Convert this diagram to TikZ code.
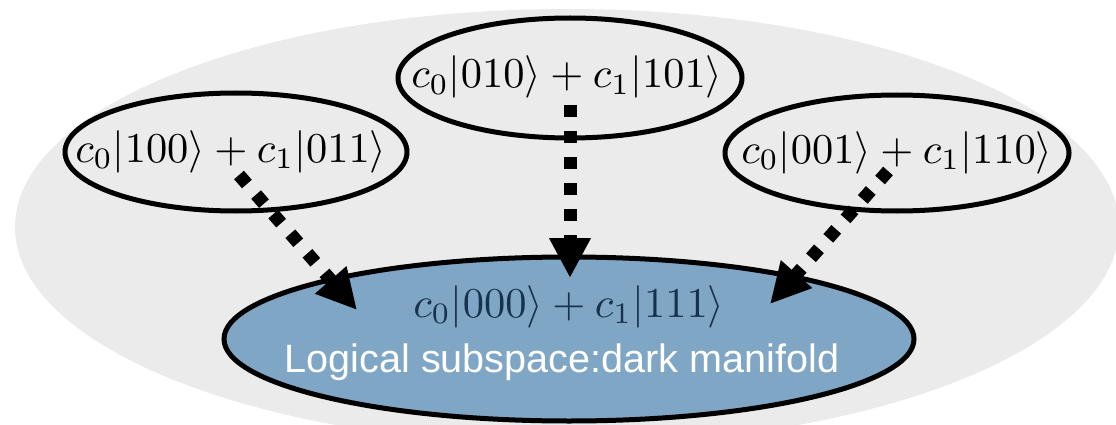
\documentclass[tikz,border=0pt]{standalone}
\usepackage{fontspec}
\newfontfamily\labelsans{Liberation Sans}
\usetikzlibrary{shapes.geometric,arrows.meta}

\definecolor{hazegray}{HTML}{EBEBEB}
\definecolor{manifoldblue}{HTML}{7FA6C4}
\definecolor{deepnavy}{HTML}{16324E}

\tikzset{
  errstate/.style={ellipse, draw=black, line width=5pt, fill=hazegray,
    inner sep=0pt},
  logical/.style={ellipse, draw=black, line width=5pt, fill=manifoldblue,
    minimum width=690pt, minimum height=164pt, inner sep=0pt},
  mathlabel/.style={inner sep=0pt, anchor=base, scale=4.25},
  flow/.style={line width=13pt, dash pattern=on 12pt off 14pt,
    -{Triangle[length=40pt, width=39pt]}}
}

\begin{document}
\begin{tikzpicture}[x=1pt, y=-1pt]
  \useasboundingbox (0,0) rectangle (1116,425);

  % code space
  \fill[hazegray] (567,227) ellipse [x radius=552pt, y radius=218pt];

  % error states
  \node[errstate, minimum width=344pt, minimum height=120pt] (top) at (570,78) {};
  \node[errstate, minimum width=342pt, minimum height=118pt] (left) at (236,152) {};
  \node[errstate, minimum width=344pt, minimum height=116pt] (right) at (897,153) {};

  \node[mathlabel] (toptext) at (567,88) {$c_0|010\rangle + c_1|101\rangle$};
  \node[mathlabel] (lefttext) at (231,162) {$c_0|100\rangle + c_1|011\rangle$};
  \node[mathlabel] (righttext) at (897,163) {$c_0|001\rangle + c_1|110\rangle$};

  % logical subspace
  \node[logical] (code) at (569,339) {};
  \node[mathlabel, text=deepnavy] (codetext) at (569,317) {$c_0|000\rangle + c_1|111\rangle$};
  \node[inner sep=0pt, anchor=base, scale=3.96, text=white, font=\labelsans]
    (codename) at (562,372) {Logical subspace:dark manifold};

  % recovery arrows
  \coordinate (topstart) at (570,105);
  \coordinate (topend) at (570,278);
  \coordinate (leftstart) at (239,175);
  \coordinate (leftend) at (357,310);
  \coordinate (rightstart) at (888,171);
  \coordinate (rightend) at (770,304);

  \draw[flow] (topstart) -- (topend);
  \draw[flow] (leftstart) -- (leftend);
  \draw[flow] (rightstart) -- (rightend);
\end{tikzpicture}
\end{document}
